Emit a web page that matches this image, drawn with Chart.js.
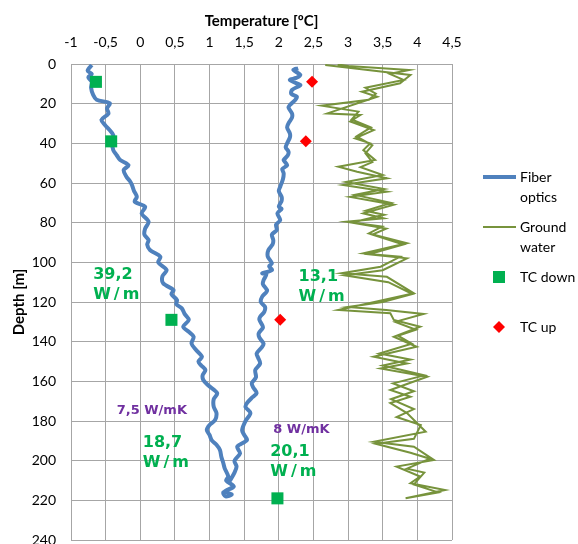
<!DOCTYPE html>
<html>
<head>
<meta charset="utf-8">
<script src="https://cdn.jsdelivr.net/npm/chart.js@4.4.0/dist/chart.umd.min.js"></script>
<style>
  body { margin: 0; background: #fff; }
  canvas { display: block; }
</style>
</head>
<body>
<canvas id="profileChart" width="578" height="544"></canvas>
<script>
  // Borehole temperature profile: [temperature °C, depth m]
  const fiberDown = [[-0.70,0.5],[-0.76,3.4],[-0.70,5],[-0.75,6.7],[-0.70,9],[-0.71,12],[-0.68,15.6],[-0.63,18],[-0.44,19.8],[-0.48,22.4],[-0.46,25],[-0.56,28.2],[-0.51,30.7],[-0.45,33],[-0.39,35.8],[-0.41,39],[-0.39,43.4],[-0.34,46],[-0.29,48.4],[-0.17,51],[-0.24,53.5],[-0.20,56.8],[-0.15,59],[-0.12,61],[-0.09,64],[-0.05,67],[-0.08,69.4],[0.07,72],[0.02,75.3],[0.12,79.5],[0.07,83],[0.06,86],[0.12,88.8],[0.10,91],[0.14,93.8],[0.29,97.2],[0.26,100],[0.38,103.9],[0.32,107],[0.33,110.6],[0.48,114],[0.45,116],[0.53,119],[0.52,121],[0.60,123.2],[0.64,126],[0.70,129],[0.62,132.5],[0.70,135],[0.77,137.5],[0.74,140.9],[0.80,144],[0.89,147.6],[0.84,150],[0.88,152],[0.94,154.3],[0.90,157],[0.91,159.3],[0.98,162],[1.11,166],[1.06,169],[1.06,172.8],[1.10,176],[1.08,179.5],[1.00,182],[0.96,184.6],[1.00,187],[1.03,189.6],[1.10,192],[1.15,194.6],[1.17,198],[1.20,201.4],[1.22,204],[1.27,208],[1.24,210],[1.35,213],[1.20,216],[1.23,218]];
  const fiberUp = [[1.32,217],[1.22,215.5],[1.35,213],[1.28,211],[1.30,209.8],[1.36,206],[1.39,203],[1.36,200],[1.44,196.3],[1.40,193],[1.54,189.6],[1.50,187],[1.47,184.6],[1.52,180],[1.59,176],[1.52,173],[1.54,171],[1.62,168],[1.68,166],[1.63,163],[1.61,161],[1.67,158],[1.66,154.3],[1.73,151],[1.70,148],[1.68,146],[1.75,143],[1.78,141],[1.72,138],[1.71,135.8],[1.77,133],[1.76,131.6],[1.72,129],[1.73,127.4],[1.79,125],[1.80,122.4],[1.74,120],[1.76,117.3],[1.82,115],[1.83,114],[1.77,111],[1.78,109],[1.82,106],[1.76,105.5],[1.90,103.9],[1.86,102],[1.90,100.5],[1.84,97],[1.85,93.8],[1.91,91],[1.92,88.8],[1.90,86],[1.97,83.7],[1.96,81],[2.02,78.7],[1.98,75.3],[2.04,73],[2.00,72],[2.04,69],[2.04,67],[2.00,64],[2.02,61.9],[2.06,58],[2.07,55.1],[2.05,53],[2.12,51],[2.08,49],[2.07,48.4],[2.13,46],[2.14,44.2],[2.10,42],[2.12,40],[2.16,37],[2.16,35],[2.12,32],[2.14,29.9],[2.19,27],[2.19,24.9],[2.14,22],[2.16,20.7],[2.24,18],[2.26,16.5],[2.18,15],[2.19,13.1],[2.30,11],[2.31,10.6],[2.16,8.1],[2.25,7],[2.31,5.5],[2.21,3],[2.28,2.2]];
  const groundDown = [[2.67,0.5],[3.90,5.5],[3.75,9.7],[3.20,14],[3.42,16.5],[2.70,24.9],[3.18,25.7],[3.03,29],[3.37,33.3],[3.10,37.5],[3.32,40],[3.22,43.4],[3.39,48.4],[2.86,51.8],[3.13,54.3],[3.56,57.6],[2.93,61],[3.56,64.4],[3.03,67],[3.66,71],[3.22,75.3],[3.51,77.8],[2.98,79.5],[3.49,82],[3.30,85.4],[3.85,90.4],[3.22,95.5],[3.75,97.2],[3.47,102.2],[2.91,105.5],[3.56,107.3],[3.95,115.6],[3.51,119],[2.86,124],[3.61,125.7],[3.66,129],[4.04,132.5],[3.66,137.5],[3.99,142.6],[3.37,147.6],[3.85,151],[3.47,153.5],[4.14,157.7],[3.61,164.4],[3.90,167.8],[3.61,171],[3.85,176],[4.12,185.4],[3.37,190.5],[3.95,193],[4.24,199.7],[3.70,203],[4.04,208],[3.90,211.4],[4.40,214.8],[3.83,219]];
  const groundUp = [[3.83,219],[4.30,216],[3.95,212],[4.10,206],[3.85,204],[4.18,199],[3.90,196],[3.40,191.5],[3.95,189],[4.05,182],[3.70,178],[3.95,174],[3.62,169],[3.95,165],[3.65,161],[4.10,157],[3.50,152],[3.90,149],[3.45,146],[3.92,141],[3.72,137],[3.98,134],[3.68,130],[4.09,126],[3.55,124],[3.00,122.5],[3.50,120],[3.93,116],[3.58,110],[2.95,106.5],[3.50,104],[3.85,98],[3.30,96],[3.80,91],[3.35,86],[3.55,83],[3.05,80],[3.52,76],[3.25,74],[3.62,70],[3.10,66],[3.52,63],[2.97,59.5],[3.50,56],[3.18,52],[3.35,49.5],[3.25,45],[3.35,41],[3.12,36.5],[3.33,32],[3.05,28],[3.15,24],[2.62,21],[3.30,18],[3.40,15],[3.25,12],[3.80,8],[3.60,5],[3.88,3],[3.00,1],[2.85,0.2]];
  const tcDownTemp = [-0.64, -0.42, 0.45, 1.98];
  const tcDownDepth = [9, 39, 129, 219];
  const tcUpTemp = [2.48, 2.39, 2.02];
  const tcUpDepth = [9, 39, 129];
  const seriesNames = ['Fiber optics', 'Ground water', 'TC down', 'TC up'];

  // heat flux notes, placed in axis units
  const fluxNotes = [
    { text: '39,2', temp: -0.68, depth: 106.4 },
    { text: '13,1', temp: 2.285, depth: 107.3 },
    { text: '18,7', temp: 0.036, depth: 191 },
    { text: '20,1', temp: 1.876, depth: 195.5 }
  ];
  const conductNotes = [
    { text: '7,5 W/mK', temp: -0.34, depth: 174.8 },
    { text: '8 W/mK', temp: 1.92, depth: 184.2 }
  ];

  const toXY = arr => arr.map(p => ({ x: p[0], y: p[1] }));
  const comma = v => String(v).replace('.', ',');

  const BLUE = '#4F81BD', OLIVE = '#77933C', GREEN = '#00B050', RED = '#FF0000';

  const notesPlugin = {
    id: 'notes',
    afterDraw(chart) {
      const { ctx, chartArea, scales: { x, y } } = chart;
      ctx.save();
      ctx.textBaseline = 'middle';
      ctx.textAlign = 'left';
      fluxNotes.forEach(n => {
        const px = x.getPixelForValue(n.temp);
        const py = y.getPixelForValue(n.depth);
        ctx.fillStyle = GREEN;
        ctx.font = 'bold 16px "DejaVu Sans"';
        ctx.letterSpacing = '0px';
        ctx.fillText(n.text, px, py);
        ctx.letterSpacing = '3px';
        ctx.fillText('W/m', px, py + 20);
      });
      ctx.letterSpacing = '0px';
      conductNotes.forEach(n => {
        ctx.fillStyle = '#7030A0';
        ctx.font = 'bold 13px "DejaVu Sans"';
        ctx.fillText(n.text, x.getPixelForValue(n.temp), y.getPixelForValue(n.depth));
      });

      // legend on the right
      const lx = chartArea.right + 31;
      const tx = lx + 37;
      ctx.font = '14px Lato';
      ctx.fillStyle = '#000';
      const rows = [
        { lines: ['Fiber', 'optics'], y: 177, kind: 'line', color: BLUE, width: 4 },
        { lines: ['Ground', 'water'], y: 227, kind: 'line', color: OLIVE, width: 2 },
        { lines: ['TC down'], y: 277, kind: 'square', color: GREEN },
        { lines: ['TC up'], y: 327, kind: 'diamond', color: RED }
      ];
      rows.forEach(r => {
        if (r.kind === 'line') {
          ctx.strokeStyle = r.color;
          ctx.lineWidth = r.width;
          ctx.beginPath();
          ctx.moveTo(lx, r.y);
          ctx.lineTo(lx + 33, r.y);
          ctx.stroke();
        } else if (r.kind === 'square') {
          ctx.fillStyle = r.color;
          ctx.fillRect(lx + 10, r.y - 6, 12, 12);
        } else {
          ctx.fillStyle = r.color;
          ctx.beginPath();
          ctx.moveTo(lx + 16, r.y - 6);
          ctx.lineTo(lx + 22, r.y);
          ctx.lineTo(lx + 16, r.y + 6);
          ctx.lineTo(lx + 10, r.y);
          ctx.closePath();
          ctx.fill();
        }
        ctx.fillStyle = '#000';
        r.lines.forEach((t, i) => ctx.fillText(t, tx, r.y + i * 20));
      });
      ctx.restore();
    }
  };

  const ctx = document.getElementById('profileChart');
  const profileChart = new Chart(ctx, {
    type: 'scatter',
    data: {
      datasets: [{
        label: seriesNames[0],
        data: toXY(fiberDown.concat(fiberUp)),
        showLine: true,
        borderColor: BLUE,
        borderWidth: 4,
        borderJoinStyle: 'round',
        tension: 0.3,
        pointRadius: 0,
        order: 2
      }, {
        label: seriesNames[1],
        data: toXY(groundDown.concat(groundUp)),
        showLine: true,
        borderColor: OLIVE,
        borderWidth: 2,
        tension: 0,
        pointRadius: 0,
        order: 1
      }, {
        label: seriesNames[2],
        data: tcDownTemp.map((t, i) => ({ x: t, y: tcDownDepth[i] })),
        pointStyle: 'rect',
        pointRadius: 8.5,
        backgroundColor: GREEN,
        borderWidth: 0,
        order: 0
      }, {
        label: seriesNames[3],
        data: tcUpTemp.map((t, i) => ({ x: t, y: tcUpDepth[i] })),
        pointStyle: 'rectRot',
        pointRadius: 6,
        backgroundColor: RED,
        borderWidth: 0,
        order: 0
      }]
    },
    options: {
      responsive: false,
      animation: false,
      layout: { autoPadding: false, padding: { left: 0, top: 0, right: 126, bottom: 4 } },
      plugins: { legend: { display: false }, tooltip: { enabled: false } },
      scales: {
        x: {
          type: 'linear',
          position: 'top',
          min: -1,
          max: 4.5,
          afterFit: s => { s.height = 64; },
          ticks: {
            stepSize: 0.5,
            padding: 13,
            color: '#000',
            font: { family: 'Lato', size: 14 },
            callback: v => comma(v)
          },
          grid: { color: '#a6a6a6', drawTicks: false },
          border: { color: '#a6a6a6' },
          title: {
            display: true,
            text: 'Temperature [ºC]',
            color: '#000',
            padding: { top: 12, bottom: 0 },
            font: { family: 'Lato', size: 15, weight: 'bold' }
          }
        },
        y: {
          type: 'linear',
          reverse: true,
          min: 0,
          max: 240,
          // plot reaches down to the bottom edge; the 240 label may run off
          afterFit: s => { s.width = 71; s.paddingTop = 0; s.paddingBottom = 0; },
          ticks: {
            stepSize: 20,
            padding: 15,
            color: '#000',
            font: { family: 'Lato', size: 14 }
          },
          grid: { color: '#a6a6a6', drawTicks: false },
          border: { color: '#a6a6a6' },
          title: {
            display: true,
            text: 'Depth [m]',
            color: '#000',
            padding: { top: 10, bottom: 0 },
            font: { family: 'Lato', size: 15, weight: 'bold' }
          }
        }
      }
    },
    plugins: [notesPlugin]
  });
</script>
</body>
</html>
